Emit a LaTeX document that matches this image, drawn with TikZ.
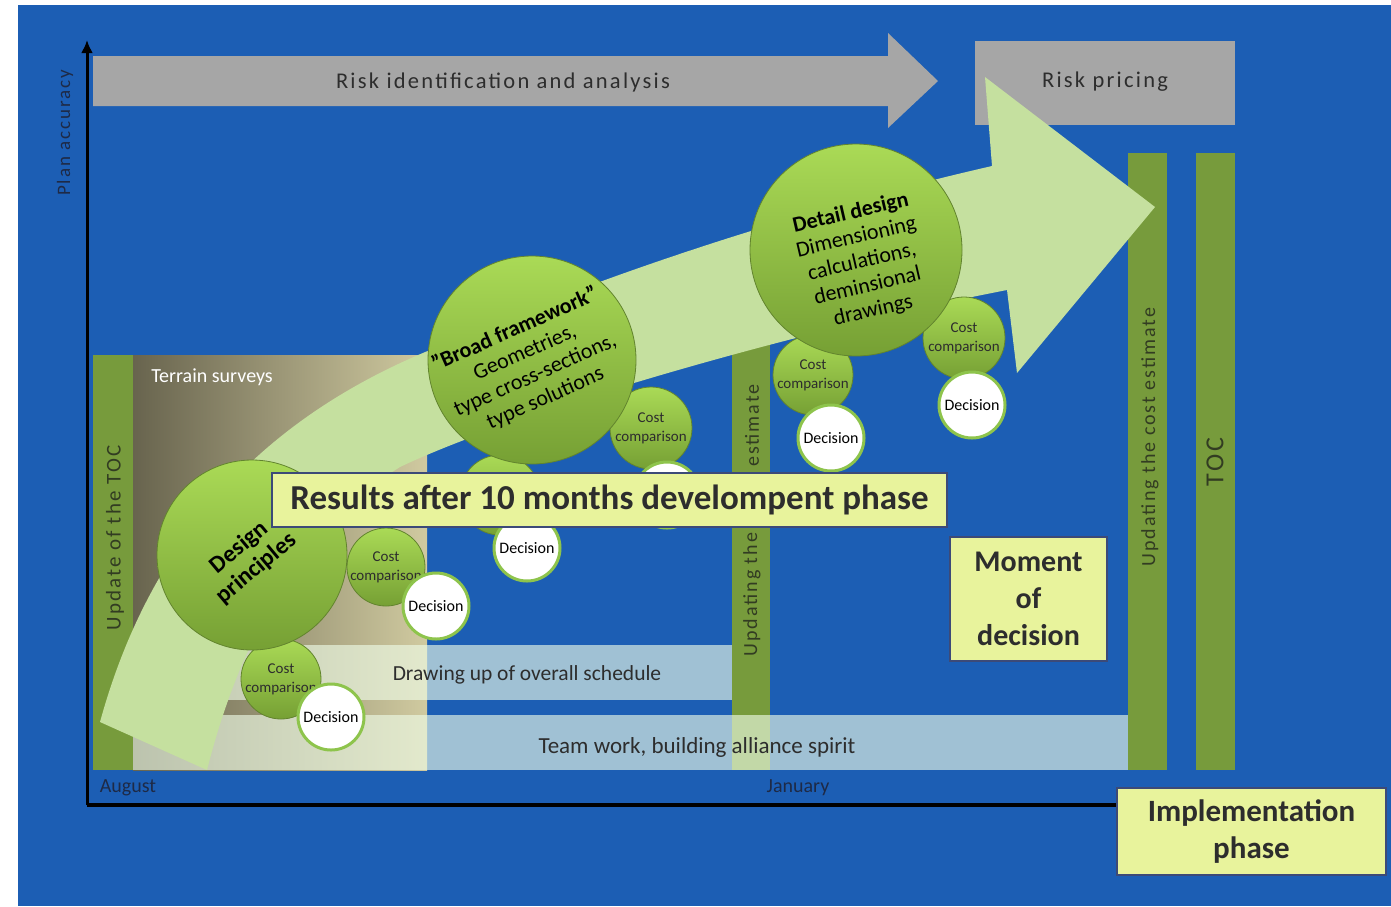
\documentclass[tikz,border=0pt]{standalone}
\usepackage{fontspec}
\setmainfont{Carlito}
\newfontfamily\spaced[LetterSpace=10]{Carlito}
\usetikzlibrary{arrows.meta}

\definecolor{bgblue}{RGB}{28,94,180}
\definecolor{barolive}{RGB}{119,155,60}
\definecolor{riskgray}{RGB}{166,166,166}
\definecolor{arrowgreen}{RGB}{197,224,159}
\definecolor{balltop}{RGB}{170,218,86}
\definecolor{ballbot}{RGB}{118,160,52}
\definecolor{ballrim}{RGB}{98,132,46}
\definecolor{decrim}{RGB}{142,196,76}
\definecolor{noteyellow}{RGB}{232,243,156}
\definecolor{noterim}{RGB}{60,74,120}
\definecolor{tint}{RGB}{238,252,231}
\definecolor{terrdark}{RGB}{104,100,78}
\definecolor{terrlight}{RGB}{208,202,160}
\definecolor{inkgray}{RGB}{45,45,45}
\definecolor{barink}{RGB}{50,60,34}
\definecolor{axisink}{RGB}{30,42,70}

\begin{document}
\begin{tikzpicture}[x=1pt, y=-1pt,
    every node/.style = {inner sep=0pt, align=center},
    bartext/.style = {rotate=90, text=barink,
        font=\spaced\fontsize{20}{20}\selectfont},
    tintband/.style = {fill=tint, fill opacity=0.63},
    ball/.style = {circle, top color=balltop, bottom color=ballbot,
        draw=ballrim, line width=0.8pt},
    balltext/.style = {text=black, font=\fontsize{22}{25}\selectfont},
    costball/.style = {ball, minimum size=80pt, text=inkgray,
        font=\fontsize{15}{19}\selectfont},
    decball/.style = {circle, fill=white, draw=decrim, line width=3pt,
        minimum size=66pt, text=black, font=\fontsize{16}{16}\selectfont},
    note/.style = {fill=noteyellow, draw=noterim, line width=2pt, text=inkgray,
        font=\bfseries\fontsize{30}{37}\selectfont},
    lowtext/.style = {text=inkgray, font=\fontsize{23}{23}\selectfont},
    risktext/.style = {text=inkgray, font=\spaced\fontsize{22.5}{23}\selectfont}]
    \useasboundingbox (0,0) rectangle (1391,906);
    \fill[bgblue] (18,5) rectangle (1391,906);

    % left panel with terrain surveys
    \shade[left color=terrdark, right color=terrlight] (133,355) rectangle (427,770);
    \fill[barolive] (93,355) rectangle (133,770);
    \node[bartext, font=\spaced\fontsize{21}{22}\selectfont] (tocleft) at (115,538) {Update of the TOC};

    % vertical bars
    \fill[barolive] (732,343) rectangle (770,770);
    \node[bartext, anchor=west] (updmid) at (752,657) {Updating the};
    \node[bartext, anchor=east] (updmidtop) at (752,384) {estimate};
    \fill[barolive] (1128,153) rectangle (1167,770);
    \node[bartext] (updright) at (1150,437) {Updating the cost estimate};
    \fill[barolive] (1196,153) rectangle (1235,770);
    \node[bartext, font=\spaced\fontsize{26}{26}\selectfont] (tocright) at (1215,462) {TOC};

    % bands
    \fill[tintband] (133,645) rectangle (732,700);
    \fill[tintband] (133,715) rectangle (1128,770);
    \node[lowtext, font=\fontsize{21.5}{22}\selectfont] (schedule) at (527,675) {Drawing up of overall schedule};
    \node[lowtext] (teamwork) at (697,747) {Team work, building alliance spirit};

    % risk arrow and risk pricing
    \fill[riskgray] (93,56) -- (888,56) -- (888,33) -- (938,81) -- (888,128) -- (888,106) -- (93,106) -- cycle;
    \node[risktext] (riskid) at (503,82) {Risk identification and analysis};
    \fill[riskgray] (975,41) rectangle (1235,125);
    \node[risktext] (riskpr) at (1105,82) {Risk pricing};

    % big curved arrow
    \fill[arrowgreen] (100,722) .. controls (150,540) and (260,420) .. (430,350)
        .. controls (600,275) and (800,210) .. (992,166) -- (985,77) -- (1155,207)
        -- (1017,373) -- (1007,290) .. controls (800,330) and (520,410) .. (400,467)
        .. controls (300,530) and (240,640) .. (207,770) -- cycle;
    \node[text=white, font=\fontsize{20}{20}\selectfont] (terrain) at (212,377) {Terrain surveys};

    % cost comparisons and decisions
    \node[costball] (cost1) at (281,679) {Cost\\comparison};
    \node[costball, minimum size=78pt] (cost2) at (386,567) {Cost\\comparison};
    \node[costball, minimum size=82pt] (cost3) at (651,428) {Cost\\comparison};
    \node[costball] (cost4) at (500,495) {};
    \node[costball] (cost5) at (813,375) {Cost\\comparison};
    \node[costball, minimum size=82pt] (cost6) at (964,338) {Cost\\comparison};
    \node[decball] (dec1) at (331,717) {Decision};
    \node[decball] (dec2) at (436,606) {Decision};
    \node[decball] (dec3) at (667,495) {};
    \node[decball] (dec4) at (527,548) {Decision};
    \node[decball] (dec5) at (831,438) {Decision};
    \node[decball] (dec6) at (972,405) {Decision};

    % design phases
    \node[ball, minimum size=190pt] (design) at (252,555) {};
    \node[balltext, rotate=40, font=\bfseries\fontsize{24}{27}\selectfont] (designtxt) at (248,558) {Design\\principles};
    \node[ball, minimum size=208pt] (broad) at (532,360) {};
    \node[balltext, rotate=24] (broadtxt) at (530,364) {\textbf{”Broad framework”}\\Geometries,\\type cross-sections,\\type solutions};
    \node[ball, minimum size=212pt] (detail) at (856,250) {};
    \node[balltext, rotate=13] (detailtxt) at (862,262) {\textbf{Detail design}\\Dimensioning\\calculations,\\deminsional\\drawings};

    % axes
    \coordinate (origin) at (87,805);
    \coordinate (ytop) at (87,40);
    \coordinate (xend) at (1117,805);
    \draw[line width=3pt, -{Latex[length=13pt,width=12pt]}] (origin) -- (ytop);
    \draw[line width=3.5pt] (origin) -- (xend);
    \node[rotate=90, text=axisink, font=\spaced\fontsize{19}{19}\selectfont] (yaxislabel) at (65,133) {Plan accuracy};
    \node[text=axisink, font=\fontsize{20}{20}\selectfont] (august) at (128,788) {August};
    \node[text=axisink, font=\fontsize{20}{20}\selectfont] (january) at (798,788) {January};

    % notes
    \node[note, minimum width=675pt, minimum height=54pt, font=\bfseries\fontsize{35}{35}\selectfont] (results) at (609.5,500) {Results after 10 months develompent phase};
    \node[note, minimum width=157pt, minimum height=124pt] (moment) at (1028.5,599) {Moment\\of\\decision};
    \node[note, minimum width=269pt, minimum height=87pt, font=\bfseries\fontsize{31}{37}\selectfont] (impl) at (1251.5,831.5) {Implementation\\phase};
\end{tikzpicture}
\end{document}
